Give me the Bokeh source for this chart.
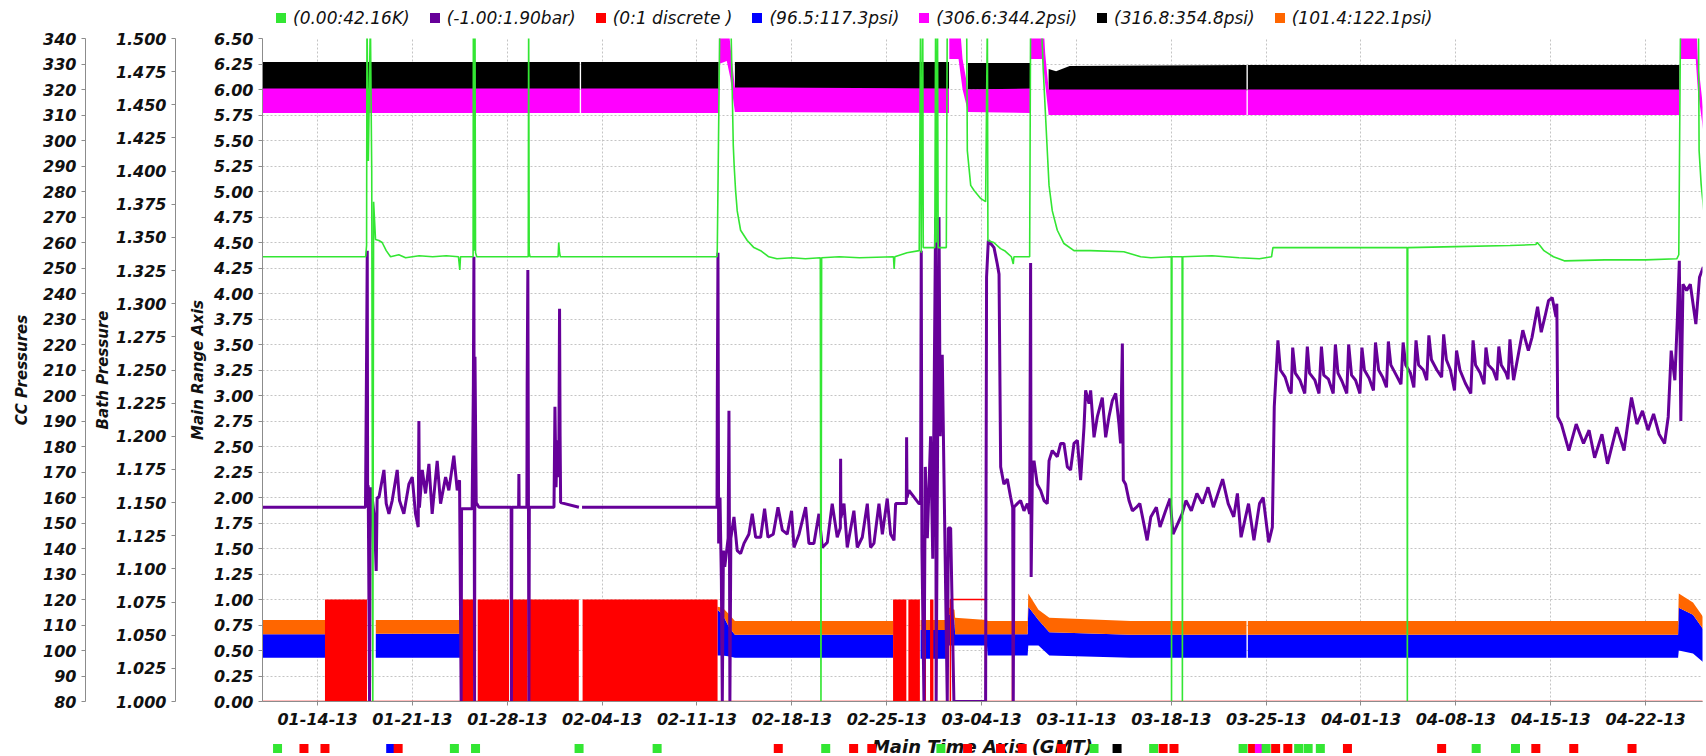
import math
from bokeh.plotting import figure
from bokeh.models import (Range1d, LinearAxis, FixedTicker, NumeralTickFormatter,
                          Legend, LegendItem)
from bokeh.layouts import column
from bokeh.embed import file_html
from bokeh.resources import INLINE
from bokeh.core.properties import value

NAN = float("nan")

# ---------------- axes / ticks ----------------
# x values are days since 2013-01-14 00:00 GMT
X_START, X_END = -4.06, 102.2
x_tick_days = [0, 7, 14, 21, 28, 35, 42, 49, 56, 63, 70, 77, 84, 91, 98]
x_tick_labels = ["01-14-13", "01-21-13", "01-28-13", "02-04-13", "02-11-13", "02-18-13",
                 "02-25-13", "03-04-13", "03-11-13", "03-18-13", "03-25-13", "04-01-13",
                 "04-08-13", "04-15-13", "04-22-13"]
x_axis_title = "Main Time Axis (GMT)"

main_ticks = [0.0, 0.25, 0.5, 0.75, 1.0, 1.25, 1.5, 1.75, 2.0, 2.25, 2.5, 2.75, 3.0, 3.25,
              3.5, 3.75, 4.0, 4.25, 4.5, 4.75, 5.0, 5.25, 5.5, 5.75, 6.0, 6.25, 6.5]
bath_ticks = [1.0, 1.025, 1.05, 1.075, 1.1, 1.125, 1.15, 1.175, 1.2, 1.225, 1.25, 1.275,
              1.3, 1.325, 1.35, 1.375, 1.4, 1.425, 1.45, 1.475, 1.5]
cc_ticks = [80, 90, 100, 110, 120, 130, 140, 150, 160, 170, 180, 190, 200, 210, 220, 230,
            240, 250, 260, 270, 280, 290, 300, 310, 320, 330, 340]

legend_labels = ["(0.00:42.16K)", "(-1.00:1.90bar)", "(0:1 discrete )", "(96.5:117.3psi)",
                 "(306.6:344.2psi)", "(316.8:354.8psi)", "(101.4:122.1psi)"]

GREEN, PURPLE, RED, BLUE = "#33e633", "#660099", "#ff0000", "#0000ff"
MAGENTA, BLACK, ORANGE = "#ff00ff", "#000000", "#ff6600"

# ---------------- series (main-axis units) ----------------
temperature_K = [
    (-4.1, 4.36), (3.55, 4.36), (3.62, 4.47), (3.65, 6.7), (3.75, 5.3), (3.90, 6.7), (4.00, 5.2),
    (4.08, 0.0), (4.14, 4.9), (4.28, 4.53), (4.53, 4.52), (4.77, 4.50), (5.07, 4.42), (5.39, 4.36),
    (6.0, 4.38), (6.5, 4.35), (7.5, 4.37), (8.5, 4.36), (9.5, 4.37), (10.4, 4.36), (10.50, 4.23),
    (10.55, 4.36), (11.48, 4.36), (11.50, 6.7), (11.56, 4.42), (11.62, 6.7), (11.66, 4.40),
    (11.75, 4.36), (15.55, 4.36), (15.58, 6.7), (15.62, 4.40), (15.68, 4.36), (17.75, 4.36),
    (17.80, 4.50), (17.86, 4.40), (17.92, 4.36), (29.48, 4.36), (29.50, 4.44), (29.69, 6.7),
    (30.50, 6.7), (30.68, 5.45), (30.75, 5.24), (30.85, 5.01), (30.97, 4.81), (31.22, 4.62),
    (31.71, 4.52), (32.2, 4.45), (32.7, 4.42), (33.3, 4.36), (33.9, 4.34), (35.0, 4.35),
    (36.0, 4.34), (37.1, 4.35), (37.15, 0.0), (37.20, 4.35), (38.5, 4.36), (40.0, 4.35),
    (42.5, 4.36), (42.55, 4.24), (42.6, 4.36), (43.5, 4.40), (44.4, 4.42), (44.50, 6.7),
    (44.55, 4.40), (44.66, 6.7), (44.70, 4.45), (45.55, 4.45), (45.61, 6.7), (45.66, 4.50),
    (45.75, 6.7), (45.80, 4.45), (46.40, 4.45), (46.47, 6.7), (47.90, 6.7), (47.95, 5.4),
    (48.2, 5.06), (48.45, 5.01), (48.95, 4.93), (49.30, 4.90), (49.43, 6.7), (49.47, 4.52),
    (49.9, 4.50), (50.4, 4.44), (50.7, 4.42), (51.2, 4.36), (51.34, 4.29), (51.39, 4.36),
    (52.55, 4.36), (52.62, 6.7), (53.40, 6.7), (53.55, 6.2), (53.70, 5.8), (53.85, 5.4),
    (53.98, 5.06), (54.22, 4.81), (54.59, 4.62), (55.08, 4.49), (55.82, 4.42), (57.05, 4.42),
    (59.5, 4.41), (60.74, 4.36), (61.5, 4.35), (63.0, 4.36), (63.02, 0.0), (63.05, 4.36),
    (63.80, 4.36), (63.82, 0.0), (63.85, 4.36), (66.0, 4.37), (68.0, 4.35), (69.5, 4.34),
    (70.4, 4.36), (70.5, 4.45), (74.0, 4.45), (78.0, 4.45), (80.40, 4.45), (80.42, 0.0),
    (80.45, 4.45), (84.0, 4.46), (88.0, 4.47), (89.9, 4.48), (90.0, 4.50), (90.2, 4.47),
    (90.5, 4.42), (91.2, 4.36), (92.0, 4.32), (95.0, 4.33), (98.0, 4.33), (100.3, 4.34),
    (100.45, 4.38), (100.58, 6.7), (101.90, 6.7), (101.95, 5.4), (102.1, 5.07), (102.3, 4.81),
]

pressure_bar = [
    (-4.1, 1.905), (3.54, 1.905), (3.62, 3.38), (3.67, 4.42), (3.70, 1.90), (3.74, 2.12),
    (3.84, 0.0), (3.88, 1.50), (3.95, 2.10), (4.20, 1.80), (4.33, 1.28), (4.40, 2.00),
    (4.53, 2.00), (4.90, 2.27), (5.07, 1.94), (5.27, 1.84), (5.51, 1.97), (5.88, 2.27),
    (6.05, 1.97), (6.37, 1.84), (6.74, 2.13), (6.99, 2.20), (7.23, 1.84), (7.43, 1.71),
    (7.48, 2.75), (7.52, 1.90), (7.73, 2.27), (7.97, 2.04), (8.22, 2.33), (8.46, 1.84),
    (8.83, 2.36), (9.08, 1.94), (9.45, 2.20), (9.69, 2.07), (10.06, 2.41), (10.31, 2.07),
    (10.48, 2.17), (10.60, 0.0), (10.63, 1.89), (11.41, 1.89), (11.50, 3.10), (11.54, 4.36),
    (11.56, 2.20), (11.59, 0.0), (11.62, 3.38), (11.71, 1.95), (11.91, 1.905), (14.29, 1.905),
    (14.31, 0.0), (14.34, 1.905), (14.84, 1.905), (14.86, 2.23), (14.88, 1.905), (15.45, 1.905),
    (15.47, 3.10), (15.52, 4.23), (15.56, 2.20), (15.60, 0.0), (15.63, 1.905), (17.45, 1.905),
    (17.52, 2.89), (17.60, 2.10), (17.69, 2.56), (17.80, 2.20), (17.86, 3.85), (17.90, 2.60),
    (17.94, 1.95), (19.29, 1.905), (19.30, NAN), (19.52, 1.905), (29.48, 1.905), (29.50, 2.98),
    (29.55, 4.40), (29.60, 1.55), (29.70, 2.00), (29.80, 1.20), (29.87, 0.0), (29.95, 1.48),
    (30.05, 1.32), (30.30, 1.60), (30.36, 2.85), (30.40, 1.50), (30.43, 0.0), (30.50, 1.60),
    (30.73, 1.81), (30.97, 1.48), (31.22, 1.45), (31.47, 1.55), (31.83, 1.64), (32.08, 1.84),
    (32.33, 1.61), (32.70, 1.61), (32.99, 1.89), (33.24, 1.61), (33.63, 1.64), (33.98, 1.905),
    (34.30, 1.68), (34.66, 1.64), (34.98, 1.87), (35.16, 1.51), (35.53, 1.64), (36.02, 1.905),
    (36.26, 1.55), (36.63, 1.55), (37.00, 1.84), (37.25, 1.51), (37.62, 1.56), (37.98, 1.94),
    (38.35, 1.61), (38.58, 1.70), (38.60, 2.38), (38.62, 1.80), (38.85, 1.94), (39.09, 1.51),
    (39.58, 1.87), (39.83, 1.51), (40.20, 1.61), (40.57, 1.94), (40.81, 1.51), (41.06, 1.55),
    (41.43, 1.94), (41.68, 1.64), (42.04, 1.99), (42.29, 1.64), (42.54, 1.58), (42.66, 1.94),
    (43.45, 1.94), (43.47, 2.59), (43.50, 2.00), (43.64, 2.07), (44.38, 1.94), (44.50, 1.94),
    (44.55, 4.42), (44.60, 1.50), (44.75, 0.0), (44.85, 2.30), (45.00, 1.60), (45.24, 2.60),
    (45.40, 1.40), (45.61, 4.75), (45.65, 0.0), (45.80, 3.50), (45.86, 4.75), (45.95, 2.60),
    (46.10, 3.40), (46.25, 2.00), (46.47, 0.0), (46.55, 1.70), (46.72, 1.70), (46.96, 0.0),
    (49.30, 0.0), (49.37, 4.16), (49.50, 4.52), (49.92, 4.45), (50.16, 4.29), (50.29, 4.19),
    (50.41, 2.30), (50.65, 2.13), (50.90, 2.18), (51.15, 2.00), (51.30, 1.90), (51.34, 0.0),
    (51.39, 1.905), (51.64, 1.94), (51.88, 1.97), (52.13, 1.87), (52.38, 1.94), (52.55, 1.84),
    (52.62, 4.30), (52.66, 1.22), (52.75, 2.24), (52.87, 2.36), (53.11, 2.13), (53.36, 2.07),
    (53.61, 1.97), (53.85, 1.94), (53.98, 2.36), (54.22, 2.46), (54.59, 2.40), (54.84, 2.53),
    (55.08, 2.53), (55.33, 2.30), (55.57, 2.27), (55.82, 2.53), (56.07, 2.56), (56.31, 2.17),
    (56.56, 2.69), (56.68, 3.05), (56.93, 2.92), (57.05, 3.05), (57.30, 2.59), (57.54, 2.79),
    (57.91, 2.98), (58.16, 2.59), (58.40, 2.79), (58.65, 2.95), (58.90, 3.02), (59.14, 2.72),
    (59.26, 2.53), (59.39, 3.51), (59.46, 2.17), (59.63, 2.13), (59.88, 1.97), (60.13, 1.87),
    (60.40, 1.90), (60.68, 1.94), (61.22, 1.58), (61.49, 1.81), (61.90, 1.905), (62.17, 1.71),
    (62.58, 1.87), (62.91, 1.99), (63.13, 1.64), (63.80, 1.84), (64.08, 1.97), (64.48, 1.87),
    (64.89, 2.04), (65.30, 1.94), (65.71, 2.10), (66.11, 1.905), (66.79, 2.18), (67.20, 1.94),
    (67.61, 1.81), (67.88, 2.04), (68.15, 1.61), (68.70, 1.94), (69.10, 1.58), (69.51, 1.94),
    (69.78, 2.00), (70.19, 1.56), (70.46, 1.71), (70.60, 2.89), (70.87, 3.54), (71.05, 3.25),
    (71.40, 3.18), (71.70, 3.05), (71.85, 3.02), (71.96, 3.47), (72.15, 3.22), (72.50, 3.15),
    (72.85, 3.02), (73.04, 3.48), (73.20, 3.22), (73.60, 3.15), (73.90, 3.02), (74.08, 3.48),
    (74.25, 3.20), (74.60, 3.16), (74.95, 3.02), (75.11, 3.50), (75.30, 3.22), (75.60, 3.14),
    (75.95, 3.02), (76.09, 3.50), (76.30, 3.20), (76.60, 3.15), (76.92, 3.02), (77.07, 3.47),
    (77.25, 3.25), (77.60, 3.17), (77.92, 3.05), (78.07, 3.52), (78.30, 3.25), (78.60, 3.18),
    (78.88, 3.08), (79.02, 3.53), (79.20, 3.30), (79.60, 3.20), (79.95, 3.11), (80.11, 3.52),
    (80.30, 3.30), (80.65, 3.22), (80.90, 3.08), (81.06, 3.54), (81.25, 3.30), (81.60, 3.25),
    (81.85, 3.15), (82.01, 3.59), (82.20, 3.35), (82.60, 3.25), (82.95, 3.18), (83.10, 3.60),
    (83.30, 3.35), (83.60, 3.25), (83.90, 3.05), (84.05, 3.44), (84.30, 3.25), (84.70, 3.12),
    (85.10, 3.02), (85.27, 3.54), (85.45, 3.30), (85.80, 3.22), (86.08, 3.11), (86.22, 3.47),
    (86.40, 3.30), (86.75, 3.25), (87.02, 3.15), (87.17, 3.48), (87.35, 3.30), (87.70, 3.22),
    (87.85, 3.16), (87.99, 3.55), (88.15, 3.30), (88.26, 3.15), (88.94, 3.64), (89.35, 3.44),
    (89.62, 3.57), (90.03, 3.87), (90.30, 3.62), (90.57, 3.77), (90.84, 3.93), (91.11, 3.96),
    (91.39, 3.77), (91.45, 3.90), (91.52, 2.79), (91.79, 2.72), (92.34, 2.46), (92.88, 2.72),
    (93.42, 2.53), (93.83, 2.66), (94.24, 2.39), (94.78, 2.62), (95.19, 2.33), (95.87, 2.69),
    (96.41, 2.46), (96.96, 2.98), (97.36, 2.72), (97.77, 2.85), (98.18, 2.66), (98.59, 2.82),
    (99.00, 2.62), (99.40, 2.53), (99.67, 2.79), (99.89, 3.44), (100.16, 3.15), (100.35, 3.77),
    (100.49, 4.32), (100.60, 2.75), (100.76, 4.09), (101.03, 4.03), (101.30, 4.09),
    (101.71, 3.70), (101.98, 4.16), (102.26, 4.26),
]

# discrete 0:1 signal: dense toggling periods (appear filled) and the steady step trace
discrete_block_start = [0.55, 10.52, 11.82, 14.37, 15.67, 19.56, 42.47, 43.60, 44.70, 45.20]
discrete_block_end = [3.65, 11.48, 14.13, 15.50, 19.28, 29.52, 43.45, 44.45, 44.90, 45.45]
discrete_days = [-4.1, 46.70, 46.70, 49.30, 49.30, 51.28, 51.30, 51.32, 102.3]
discrete_vals = [0, 0, 1, 1, 0, 0, 1, 0, 0]

# noisy psi traces drawn as their min/max envelopes (NaN = no data)
low_psi_days = [-4.1, 0.56, NAN, 4.3, 10.52, NAN, 29.52, 29.9, 30.4, 30.8, 36.0, 42.47, NAN,
                44.5, 46.4, 46.45, 47.0, 47.05, 49.4, 49.45, 52.4, 52.45, 53.2, 54.0, 60.0,
                68.55, NAN, 68.65, 80.0, 100.4, 100.45, 101.5, 102.3]
blue_lo = [0.43, 0.43, NAN, 0.43, 0.43, NAN, 0.45, 0.45, 0.44, 0.43, 0.43, 0.43, NAN,
           0.42, 0.42, 0.55, 0.55, 0.55, 0.55, 0.45, 0.45, 0.55, 0.55, 0.45, 0.43,
           0.43, NAN, 0.43, 0.43, 0.43, 0.50, 0.47, 0.38]
blue_hi = [0.66, 0.66, NAN, 0.665, 0.665, NAN, 0.90, 0.85, 0.72, 0.655, 0.655, 0.655, NAN,
           0.70, 0.70, 0.88, 0.80, 0.66, 0.66, 0.66, 0.66, 0.93, 0.80, 0.68, 0.655,
           0.655, NAN, 0.655, 0.655, 0.655, 0.92, 0.85, 0.70]
orange_hi = [0.80, 0.80, NAN, 0.80, 0.80, NAN, 0.93, 0.92, 0.85, 0.79, 0.79, 0.79, NAN,
             0.80, 0.80, 0.93, 0.90, 0.82, 0.80, 0.79, 0.79, 1.06, 0.90, 0.82, 0.79,
             0.79, NAN, 0.79, 0.79, 0.79, 1.06, 0.97, 0.82]

black_days = [-4.1, 19.35, NAN, 19.45, 29.6, NAN, 30.8, 46.6, NAN, 48.0, 52.6, NAN,
              53.95, 54.5, 55.5, 68.55, NAN, 68.65, 100.5]
black_lo = [6.00, 6.00, NAN, 6.00, 6.00, NAN, 6.00, 6.00, NAN, 6.00, 6.00, NAN,
            5.98, 5.98, 5.99, 5.99, NAN, 5.99, 5.99]
black_hi = [6.27, 6.27, NAN, 6.27, 6.27, NAN, 6.27, 6.27, NAN, 6.26, 6.26, NAN,
            6.20, 6.18, 6.23, 6.24, NAN, 6.24, 6.24]

magenta_days = [-4.1, 19.35, NAN, 19.45, 29.6, NAN, 29.62, 30.2, 30.45, 30.8, 46.6, NAN,
                46.62, 47.3, 47.6, 48.0, 52.6, NAN, 52.62, 53.5, 53.7, 53.95, 68.55, NAN,
                68.65, 100.5, NAN, 100.55, 101.7, 101.85, 102.3]
magenta_lo = [5.77, 5.77, NAN, 5.77, 5.77, NAN, 6.25, 6.28, 6.12, 5.78, 5.77, NAN,
              6.30, 6.30, 6.00, 5.78, 5.77, NAN, 6.30, 6.30, 6.05, 5.75, 5.75, NAN,
              5.75, 5.75, NAN, 6.30, 6.30, 6.00, 5.55]
magenta_hi = [6.01, 6.01, NAN, 6.01, 6.01, NAN, 6.80, 6.80, 6.45, 6.02, 6.01, NAN,
              6.80, 6.80, 6.30, 6.00, 6.01, NAN, 6.80, 6.80, 6.35, 6.00, 6.00, NAN,
              6.00, 6.00, NAN, 6.80, 6.80, 6.30, 5.75]

# event markers under the time axis
marker_days = [-2.95, -1.0, 0.55, 5.4, 5.95, 10.1, 11.66, 19.3, 25.06, 34.0, 37.5, 39.56,
               40.9, 46.0, 47.97, 50.4, 52.0, 54.9, 57.3, 59.0, 61.7, 62.4, 63.2, 68.3,
               69.0, 69.5, 70.0, 70.7, 71.6, 72.4, 73.1, 74.0, 76.0, 82.95, 85.5, 88.4,
               89.9, 92.7, 97.0]
marker_series = ["K", "d", "d", "lo", "d", "K", "K", "K", "K", "d", "K", "d",
                 "d", "K", "d", "d", "d", "d", "K", "hi2", "K", "d", "d", "K",
                 "d", "hi1", "K", "d", "d", "K", "K", "K", "d", "d", "K", "K",
                 "d", "d", "d"]
series_color = {"K": GREEN, "bar": PURPLE, "d": RED, "lo": BLUE, "hi1": MAGENTA,
                "hi2": BLACK, "lo2": ORANGE}


def split_nan(xs, *cols):
    groups, cur = [], []
    for i, x in enumerate(xs):
        if math.isnan(x):
            if cur:
                groups.append(cur)
                cur = []
        else:
            cur.append(i)
    if cur:
        groups.append(cur)
    return [([xs[i] for i in g],) + tuple([c[i] for i in g] for c in cols) for g in groups]


def valid(xs, ys):
    pts = [(x, y) for x, y in zip(xs, ys) if not (math.isnan(x) or math.isnan(y))]
    return [a for a, _ in pts], [b for _, b in pts]


TICK_FONT = "DejaVu Sans"

# ---------------- main plot ----------------
p = figure(width=1706, height=706, x_range=Range1d(X_START, X_END), y_range=Range1d(0, 6.5),
           output_backend="svg", toolbar_location=None,
           min_border_left=262, min_border_right=4, min_border_top=8, min_border_bottom=35)
p.outline_line_color = None
p.background_fill_color = "white"
p.border_fill_color = "white"

p.extra_y_ranges = {"bath": Range1d(1.0, 1.5), "cc": Range1d(80, 340)}


def style_axis(ax, label_standoff):
    ax.axis_line_color = "#8c8c8c"
    ax.major_tick_line_color = "#8c8c8c"
    ax.major_tick_out = 4
    ax.major_tick_in = 0
    ax.minor_tick_out = 0
    ax.minor_tick_in = 0
    ax.major_label_standoff = 5
    ax.major_label_text_font = TICK_FONT
    ax.major_label_text_font_style = "bold italic"
    ax.major_label_text_font_size = "16px"
    ax.major_label_text_color = "#111111"
    ax.axis_label_text_font = TICK_FONT
    ax.axis_label_text_font_style = "bold italic"
    ax.axis_label_text_font_size = "15px"
    ax.axis_label_text_color = "#111111"
    ax.axis_label_standoff = label_standoff


def spacer_axis(width):
    # an axis with one white, label-less tick: only reserves horizontal room
    return LinearAxis(ticker=FixedTicker(ticks=[3.25]), major_label_overrides={3.25: ""},
                      axis_line_color=None, major_tick_line_color="white",
                      major_tick_out=width, major_tick_in=0, minor_tick_out=0,
                      minor_tick_in=0, major_label_standoff=0)


xa = p.xaxis[0]
xa.ticker = FixedTicker(ticks=x_tick_days)
xa.major_label_overrides = {d: lab for d, lab in zip(x_tick_days, x_tick_labels)}
style_axis(xa, 0)
xa.major_label_standoff = 7

ya = p.yaxis[0]
ya.ticker = FixedTicker(ticks=main_ticks)
ya.formatter = NumeralTickFormatter(format="0.00")
ya.axis_label = "Main Range Axis"
style_axis(ya, 4)

p.add_layout(spacer_axis(11), "left")
bath_axis = LinearAxis(y_range_name="bath", ticker=FixedTicker(ticks=bath_ticks),
                       formatter=NumeralTickFormatter(format="0.000"), axis_label="Bath Pressure")
style_axis(bath_axis, 1)
p.add_layout(bath_axis, "left")
p.add_layout(spacer_axis(5), "left")
cc_axis = LinearAxis(y_range_name="cc", ticker=FixedTicker(ticks=cc_ticks),
                     formatter=NumeralTickFormatter(format="0"), axis_label="CC Pressures")
style_axis(cc_axis, 9)
p.add_layout(cc_axis, "left")

p.xgrid.ticker = FixedTicker(ticks=x_tick_days)
p.ygrid.ticker = FixedTicker(ticks=main_ticks)
for g in (p.xgrid[0], p.ygrid[0]):
    g.grid_line_color = "#c4c4c4"
    g.grid_line_dash = "2 2"
    g.grid_line_width = 1

for xs, lo, hi in split_nan(black_days, black_lo, black_hi):
    p.varea(x=xs, y1=lo, y2=hi, fill_color=BLACK)
for xs, lo, hi in split_nan(magenta_days, magenta_lo, magenta_hi):
    p.varea(x=xs, y1=lo, y2=hi, fill_color=MAGENTA)
for xs, lo, hi, top in split_nan(low_psi_days, blue_lo, blue_hi, orange_hi):
    p.varea(x=xs, y1=lo, y2=hi, fill_color=BLUE)
    p.varea(x=xs, y1=hi, y2=top, fill_color=ORANGE)

p.quad(left=discrete_block_start, right=discrete_block_end, bottom=0, top=1,
       fill_color=RED, line_color=None)
p.line(discrete_days, discrete_vals, line_color=RED, line_width=1.5)
p.line([d for d, _ in pressure_bar], [v for _, v in pressure_bar],
       line_color=PURPLE, line_width=3)
p.line([d for d, _ in temperature_K], [v for _, v in temperature_K],
       line_color=GREEN, line_width=1.6)

# ---------------- legend header (own strip above the plot) ----------------
h = figure(width=1706, height=30, x_range=p.x_range, y_range=Range1d(-3, -2),
           output_backend="svg", toolbar_location=None, x_axis_location=None,
           y_axis_location=None, min_border_left=250, min_border_right=0,
           min_border_top=0, min_border_bottom=0)
h.grid.visible = False
h.outline_line_color = None
# the series samples as square points (outside this strip's range; only the
# legend swatches they produce are seen)
swatch = {}
for key, xs, ys, col in [("K", [d for d, _ in temperature_K], [v for _, v in temperature_K], GREEN),
                         ("bar", [d for d, _ in pressure_bar], [v for _, v in pressure_bar], PURPLE),
                         ("d", discrete_days, discrete_vals, RED),
                         ("lo", low_psi_days, blue_lo, BLUE),
                         ("hi1", magenta_days, magenta_lo, MAGENTA),
                         ("hi2", black_days, black_hi, BLACK),
                         ("lo2", low_psi_days, orange_hi, ORANGE)]:
    vx, vy = valid(xs, ys)
    swatch[key] = h.scatter(vx, vy, marker="square", size=1, fill_color=col, line_color=None)

order = ["K", "bar", "d", "lo", "hi1", "hi2", "lo2"]
legend = Legend(items=[LegendItem(label=lab, renderers=[swatch[k]])
                       for lab, k in zip(legend_labels, order)],
                orientation="horizontal", location=(6, 0), margin=0, padding=2,
                glyph_width=25, glyph_height=25, label_standoff=0, spacing=12,
                label_text_font=TICK_FONT, label_text_font_style="italic",
                label_text_font_size="17px", label_text_color="#111111",
                border_line_color=None, background_fill_alpha=0)
h.add_layout(legend, "center")

# ---------------- marker strip + time-axis title ----------------
s = figure(width=1706, height=20, x_range=p.x_range, y_range=Range1d(0, 1),
           output_backend="svg", toolbar_location=None, x_axis_location=None,
           y_axis_location=None, min_border_left=262, min_border_right=4,
           min_border_top=0, min_border_bottom=0)
s.grid.visible = False
s.outline_line_color = None
s.text(x=[(X_START + X_END) / 2], y=[0.5], text=[x_axis_title], text_font=value(TICK_FONT),
       text_font_style="bold italic", text_font_size="18px", text_align="center",
       text_baseline="middle", text_color="#111111")
s.scatter(x=marker_days, y=0.4, marker="square", size=9,
          fill_color=[series_color[k] for k in marker_series], line_color=None)

layout = column(h, p, s, spacing=0)
html = file_html(layout, INLINE, title="Main Time Axis")
html = html.replace("<head>", "<head><style>html,body{margin:0;padding:0;}</style>", 1)
with open("out.html", "w") as f:
    f.write(html)
